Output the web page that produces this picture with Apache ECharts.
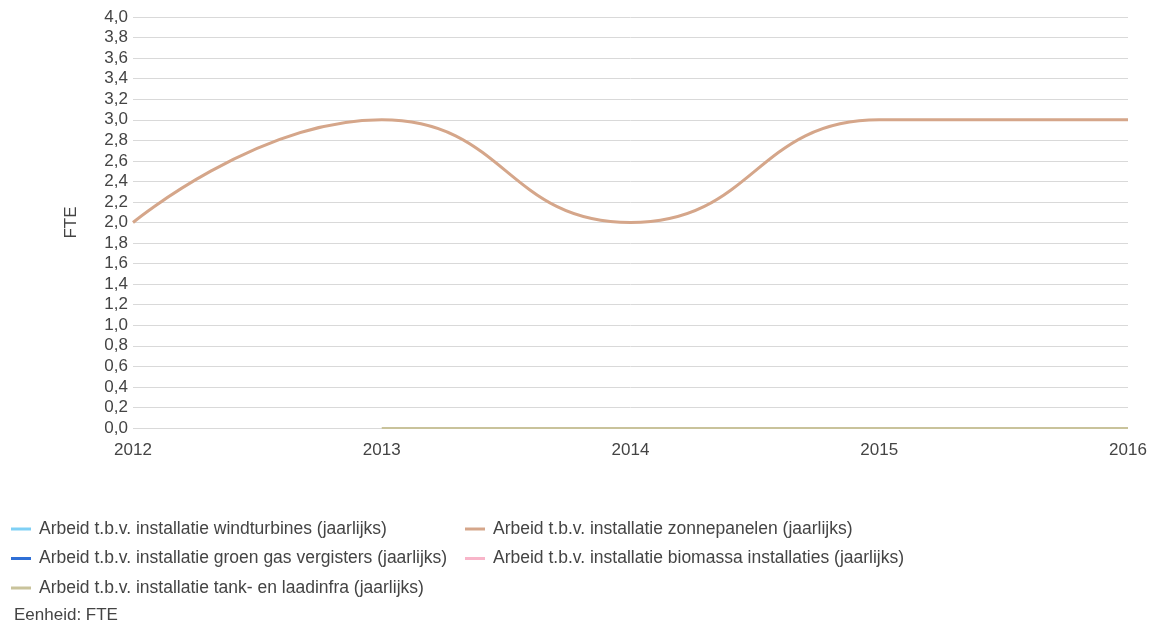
<!DOCTYPE html>
<html>
<head>
<meta charset="utf-8">
<script src="https://cdn.jsdelivr.net/npm/echarts@6/dist/echarts.min.js"></script>
<style>
  html, body { margin: 0; padding: 0; background: #fff; }
  #chart { width: 1152px; height: 625px; }
</style>
</head>
<body>
<div id="chart"></div>
<script>
// Years on the x axis
const years = ['2012', '2013', '2014', '2015', '2016'];

// Yearly labour (FTE) per installation type; null = no data
const windturbines = [null, null, null, null, null];
const zonnepanelen = [2, 3, 2, 3, 3];
const groenGas = [null, null, null, null, null];
const biomassa = [null, null, null, null, null];
const tankLaadinfra = [null, 0, 0, 0, 0];

const names = {
  wind: 'Arbeid t.b.v. installatie windturbines (jaarlijks)',
  zon: 'Arbeid t.b.v. installatie zonnepanelen (jaarlijks)',
  gas: 'Arbeid t.b.v. installatie groen gas vergisters (jaarlijks)',
  bio: 'Arbeid t.b.v. installatie biomassa installaties (jaarlijks)',
  tank: 'Arbeid t.b.v. installatie tank- en laadinfra (jaarlijks)'
};

const font = 'Liberation Sans, Arial, sans-serif';
const textColor = '#444';
const chart = echarts.init(document.getElementById('chart'));

function lineSeries(name, data, color, width) {
  return {
    name: name,
    type: 'line',
    data: data,
    smooth: true,
    smoothMonotone: 'x',
    showSymbol: false,
    symbol: 'none',
    connectNulls: false,
    lineStyle: { color: color, width: width },
    itemStyle: { color: color },
    emphasis: { disabled: true }
  };
}

const legendCommon = {
  orient: 'vertical',
  icon: 'rect',
  itemWidth: 20,
  itemHeight: 3,
  itemGap: 11.5,
  padding: 0,
  textStyle: { color: textColor, fontSize: 17.5, fontFamily: font, padding: [0, 0, 0, 3] },
  selectedMode: false
};

chart.setOption({
  animation: false,
  grid: { left: 133, right: 24, top: 17, bottom: 197 },
  xAxis: {
    type: 'category',
    data: years,
    boundaryGap: false,
    axisLine: { show: false },
    axisTick: { show: false },
    axisLabel: { color: textColor, fontSize: 17, fontFamily: font, margin: 14 }
  },
  yAxis: {
    type: 'value',
    min: 0,
    max: 4,
    interval: 0.2,
    name: 'FTE',
    nameLocation: 'middle',
    nameGap: 53,
    nameRotate: 90,
    nameTextStyle: { color: textColor, fontSize: 17, fontFamily: font },
    axisLine: { show: false },
    axisTick: { show: false },
    axisLabel: {
      color: textColor, fontSize: 17, fontFamily: font, margin: 5,
      formatter: v => v.toFixed(1).replace('.', ',')
    },
    splitLine: { lineStyle: { color: '#d9d9d9', width: 1 } }
  },
  legend: [
    Object.assign({}, legendCommon, {
      left: 11, top: 520,
      data: [names.wind, names.gas, names.tank]
    }),
    Object.assign({}, legendCommon, {
      left: 465, top: 520,
      data: [names.zon, names.bio]
    })
  ],
  graphic: [{
    type: 'text',
    left: 14,
    top: 607,
    style: { text: 'Eenheid: FTE', fill: textColor, font: '17px ' + font }
  }],
  series: [
    lineSeries(names.wind, windturbines, '#7fd0f5', 3),
    lineSeries(names.gas, groenGas, '#2f6fd6', 3),
    lineSeries(names.tank, tankLaadinfra, '#c9c39b', 2),
    lineSeries(names.zon, zonnepanelen, '#d5a68a', 3),
    lineSeries(names.bio, biomassa, '#f8b5c9', 3)
  ]
});
</script>
</body>
</html>
